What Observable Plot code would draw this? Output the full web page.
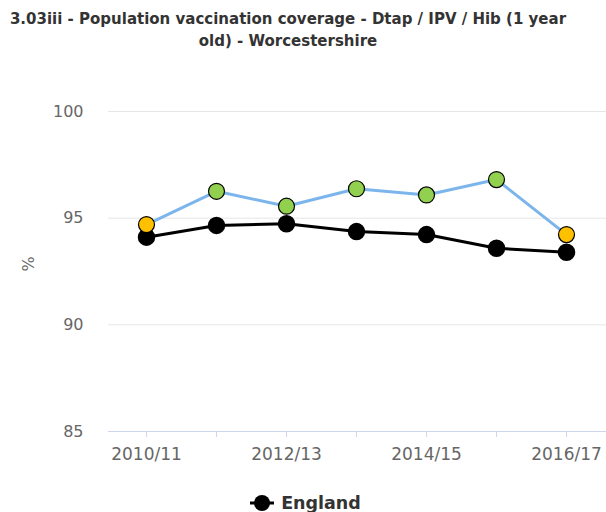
<!DOCTYPE html>
<html>
<head>
<meta charset="utf-8">
<script src="https://cdn.jsdelivr.net/npm/d3@7"></script>
<script src="https://cdn.jsdelivr.net/npm/@observablehq/plot@0.6"></script>
<style>
  body { margin: 0; background: #fff; font-family: "DejaVu Sans", sans-serif; }
  #wrap { width: 606px; height: 512px; position: relative; overflow: hidden; }
  #title { height: 50px; box-sizing: border-box; padding: 8px 30px 0 0; text-align: center;
           font-weight: bold; font-size: 15px; line-height: 22px; color: #333; }
  #legend { height: 26px; display: flex; justify-content: center; align-items: center;
            padding: 8px 0 0 4px; box-sizing: border-box; font-weight: bold; font-size: 17.5px; color: #333; }
  #legend svg { margin-right: 6px; }
</style>
</head>
<body>
<div id="wrap">
  <div id="title">3.03iii - Population vaccination coverage - Dtap / IPV / Hib (1 year<br>old) - Worcestershire</div>
  <div id="chart"></div>
  <div id="legend"></div>
</div>
<script>
const years = ["2010/11", "2011/12", "2012/13", "2013/14", "2014/15", "2015/16", "2016/17"];
const areaValues = [94.70, 96.26, 95.56, 96.38, 96.09, 96.81, 94.23];
const areaColors = ["#ffc000", "#92d050", "#92d050", "#92d050", "#92d050", "#92d050", "#ffc000"];
const englandValues = [94.11, 94.66, 94.74, 94.37, 94.23, 93.59, 93.40];
const yTicks = [85, 90, 95, 100];
const shownTicks = ["2010/11", "2012/13", "2014/15", "2016/17"];
const legendLabel = "England";
const yLabel = "%";

const area = years.map((y, i) => ({year: y, value: areaValues[i], color: areaColors[i]}));
const england = years.map((y, i) => ({year: y, value: englandValues[i]}));

const chart = Plot.plot({
  width: 606,
  height: 436,
  marginLeft: 108,
  marginRight: 0,
  marginTop: 61,
  marginBottom: 55,
  style: {fontFamily: "DejaVu Sans, sans-serif", color: "#666", background: "#fff", overflow: "visible"},
  x: {type: "point", domain: years, range: [143.5, 568.5], padding: 0},
  y: {domain: [85, 100]},
  marks: [
    Plot.ruleY(yTicks.filter(d => d !== 85), {stroke: "#e6e6e6", strokeWidth: 1}),
    Plot.ruleY([85], {stroke: "#ccd6eb", strokeWidth: 1}),
    Plot.axisY({ticks: yTicks, tickSize: 0, tickPadding: 25, fontSize: 16, label: null, fill: "#666"}),
    Plot.axisX({ticks: years, tickSize: 6, stroke: "#ccd6eb", tickPadding: 10, fontSize: 17,
                tickFormat: d => shownTicks.includes(d) ? d : "", label: null, fill: "#666"}),
    Plot.text([yLabel], {frameAnchor: "left", rotate: -90, dx: -80, fontSize: 16, fill: "#666", y: () => 92.5}),
    Plot.line(england, {x: "year", y: "value", stroke: "#000", strokeWidth: 3}),
    Plot.dot(england, {x: "year", y: "value", r: 8, fill: "#000", stroke: "#000"}),
    Plot.line(area, {x: "year", y: "value", stroke: "#7cb5ec", strokeWidth: 3}),
    Plot.dot(area, {x: "year", y: "value", r: 8, fill: "color", stroke: "#000", strokeWidth: 1.2})
  ]
});
document.getElementById("chart").appendChild(chart);

const lg = document.getElementById("legend");
lg.innerHTML = `<svg width="26" height="20"><line x1="1" y1="10" x2="25" y2="10" stroke="#000" stroke-width="3"/><circle cx="13" cy="10" r="8" fill="#000"/></svg><span>${legendLabel}</span>`;
</script>
</body>
</html>
